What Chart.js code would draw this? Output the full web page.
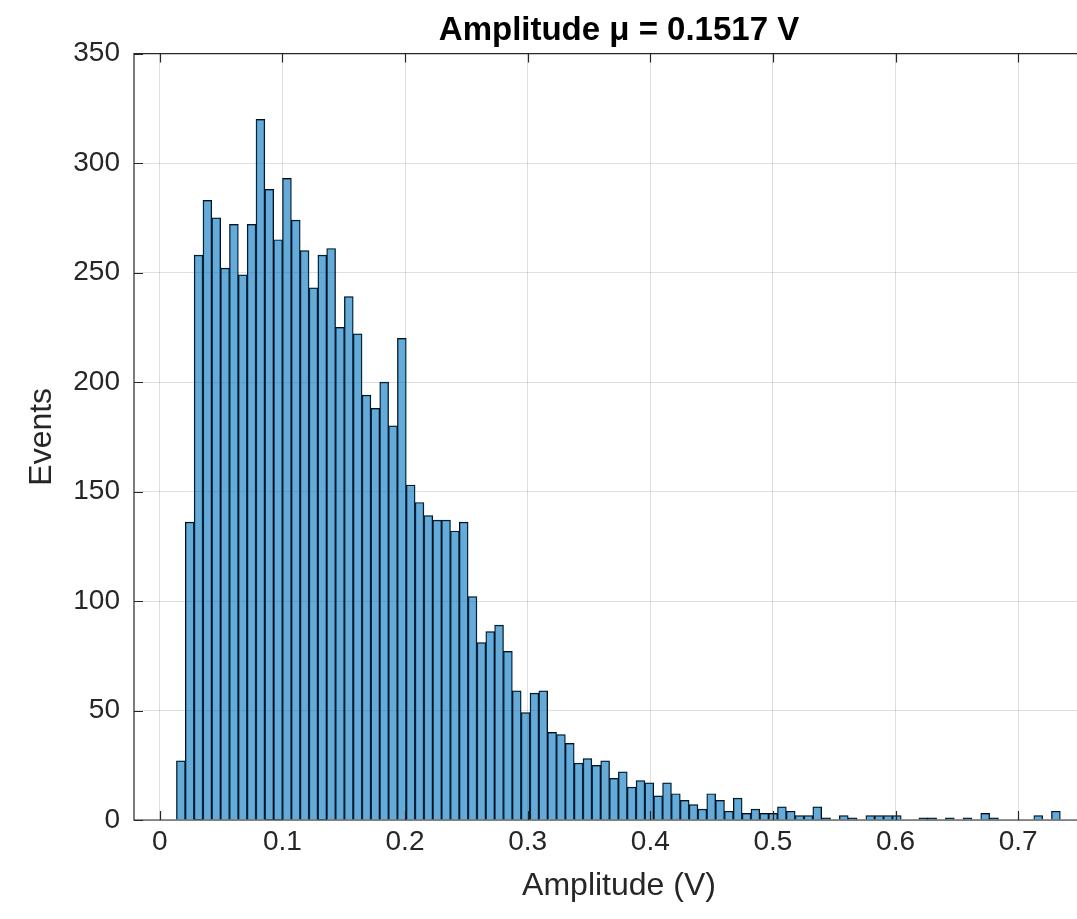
<!DOCTYPE html>
<html>
<head>
<meta charset="utf-8">
<script src="https://cdn.jsdelivr.net/npm/chart.js@4.4.1/dist/chart.umd.min.js"></script>
<style>
  html, body { margin: 0; padding: 0; background: #fff; overflow: hidden; }
  #wrap { width: 1077px; height: 919px; overflow: hidden; }
  #wrap canvas { display: block; }
</style>
</head>
<body>
<div id="wrap"><canvas id="myChart" width="1120" height="919" style="width:1120px;height:919px"></canvas></div>
<script>
// Histogram bins (V): first edge and bin width
var binStart = 0.01362;
var binWidth = 0.0072076;

// Events per bin
var binCounts = [
  27, 136, 258, 283, 275, 252, 272, 249, 272, 320,
  288, 265, 293, 274, 260, 243, 258, 261, 225, 239,
  222, 194, 188, 200, 180, 220, 153, 145, 139, 137,
  137, 132, 136, 102, 81, 86, 89, 77, 59, 49,
  58, 59, 40, 39, 35, 26, 28, 25, 27, 19,
  22, 15, 18, 17, 11, 17, 12, 9, 7, 5,
  12, 9, 4, 10, 3, 5, 3, 3, 6, 4,
  2, 2, 6, 1, 0, 2, 1, 0, 2, 2,
  2, 2, 0, 0, 1, 1, 0, 1, 0, 1,
  0, 3, 1, 0, 0, 0, 0, 2, 0, 4,
];

// Axis limits and ticks
var xMin = -0.021, xMax = 0.77, xStep = 0.1;
var yMin = 0, yMax = 350, yStep = 50;

var titleText = "Amplitude \u03bc = 0.1517 V";
var xLabel = "Amplitude (V)";
var yLabel = "Events";

var axisColor = "#262626";
var gridColor = "rgba(38,38,38,0.15)";

// bin centres for the bar scale
var points = binCounts.map(function (c, i) {
  return { x: binStart + (i + 0.5) * binWidth, y: c };
});

Chart.defaults.font.family = "'Liberation Sans', Arial, sans-serif";
Chart.defaults.color = axisColor;

// MATLAB-like box with inward ticks
var axisBox = {
  id: "axisBox",
  afterDatasetsDraw: function (chart) {
    var ctx = chart.ctx;
    var area = chart.chartArea;
    var xs = chart.scales.x;
    var ys = chart.scales.y;
    var tickLen = 9;
    ctx.save();
    ctx.strokeStyle = axisColor;
    ctx.lineWidth = 1.2;
    ctx.beginPath();
    xs.ticks.forEach(function (t) {
      var px = Math.round(xs.getPixelForValue(t.value)) + 0.5;
      ctx.moveTo(px, area.bottom);
      ctx.lineTo(px, area.bottom - tickLen);
      ctx.moveTo(px, area.top);
      ctx.lineTo(px, area.top + tickLen);
    });
    ys.ticks.forEach(function (t) {
      var py = Math.round(ys.getPixelForValue(t.value)) + 0.5;
      ctx.moveTo(area.left, py);
      ctx.lineTo(area.left + tickLen, py);
      ctx.moveTo(area.right, py);
      ctx.lineTo(area.right - tickLen, py);
    });
    ctx.rect(area.left, area.top, area.right - area.left, area.bottom - area.top);
    ctx.stroke();
    ctx.restore();
  },
};

var ctx = document.getElementById("myChart").getContext("2d");
var myChart = new Chart(ctx, {
  type: "bar",
  data: {
    datasets: [
      {
        data: points,
        backgroundColor: "rgba(0, 114, 189, 0.6)",
        borderColor: "#000000",
        borderWidth: 0.8,
        barPercentage: 1,
        categoryPercentage: 1,
      },
    ],
  },
  options: {
    responsive: false,
    devicePixelRatio: 1,
    animation: false,
    layout: { padding: { top: 11, right: 16, bottom: 0, left: 0 } },
    plugins: {
      legend: { display: false },
      tooltip: { enabled: false },
      title: {
        display: true,
        fullSize: false, // centre over the axes, as MATLAB does
        text: titleText,
        color: "#000000",
        font: { size: 33, weight: "bold" },
        padding: { top: 0, bottom: 3 },
      },
    },
    scales: {
      x: {
        type: "linear",
        min: xMin,
        max: xMax,
        offset: false,
        grid: { color: gridColor, drawTicks: false, offset: false },
        border: { display: false },
        ticks: {
          stepSize: xStep,
          includeBounds: false,
          padding: 5,
          maxRotation: 0,
          font: { size: 28 },
          color: axisColor,
        },
        title: {
          display: true,
          text: xLabel,
          font: { size: 32 },
          color: axisColor,
          padding: { top: 0, bottom: 14 },
        },
        afterFit: function (scale) {
          scale.height = 99;
        },
      },
      y: {
        min: yMin,
        max: yMax,
        grid: { color: gridColor, drawTicks: false },
        border: { display: false },
        ticks: {
          stepSize: yStep,
          padding: 14,
          font: { size: 28 },
          color: axisColor,
        },
        title: {
          display: true,
          text: yLabel,
          font: { size: 32 },
          color: axisColor,
          padding: { top: 23, bottom: 0 },
        },
        afterFit: function (scale) {
          scale.width = 134;
        },
      },
    },
  },
  plugins: [axisBox],
});
</script>
</body>
</html>
